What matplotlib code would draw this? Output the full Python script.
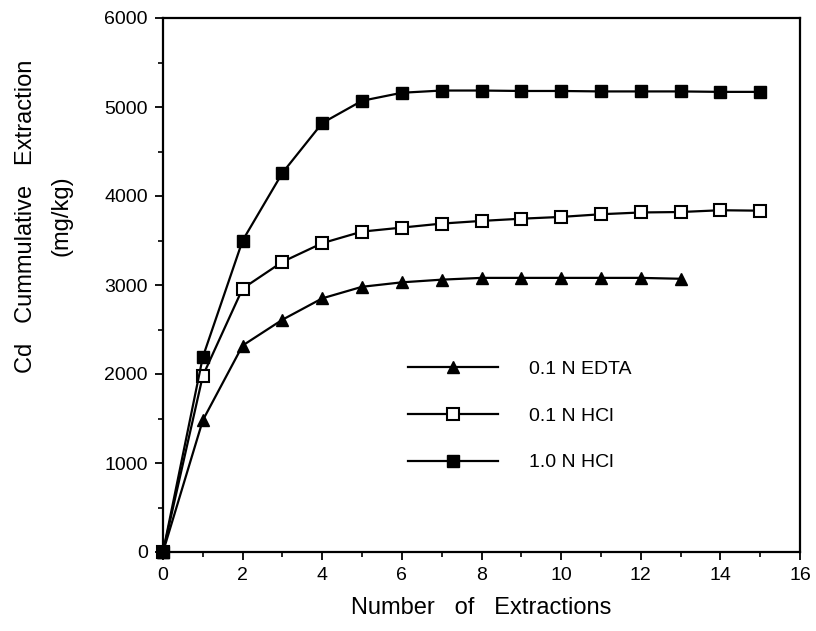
import matplotlib
matplotlib.use("Agg")
import matplotlib.pyplot as plt
from matplotlib.ticker import MultipleLocator

plt.rcParams['font.family'] = ['Liberation Sans', 'DejaVu Sans']

# data
x_edta = [0, 1, 2, 3, 4, 5, 6, 7, 8, 9, 10, 11, 12, 13]
edta = [0, 1480, 2320, 2610, 2850, 2980, 3030, 3060, 3080, 3080, 3080, 3080, 3080, 3070]

x_hcl = [0, 1, 2, 3, 4, 5, 6, 7, 8, 9, 10, 11, 12, 13, 14, 15]
hcl_01 = [0, 1980, 2960, 3260, 3470, 3600, 3645, 3690, 3720, 3745, 3765, 3795, 3815, 3820, 3840, 3835]
hcl_10 = [0, 2190, 3500, 4260, 4820, 5070, 5160, 5185, 5185, 5180, 5180, 5175, 5175, 5175, 5170, 5170]

labels = ['0.1 N EDTA', '0.1 N HCl', '1.0 N HCl']

fig = plt.figure(figsize=(8.16, 6.31), dpi=100)
ax = fig.add_axes([163/816, 79/631, 637/816, 534/631])

ax.plot(x_edta, edta, color='black', lw=1.6, marker='^', ms=8.5,
        mfc='black', mec='black', clip_on=False, label=labels[0], zorder=3)
ax.plot(x_hcl, hcl_01, color='black', lw=1.6, marker='s', ms=8,
        mfc='white', mec='black', mew=1.5, clip_on=False, label=labels[1], zorder=3)
ax.plot(x_hcl, hcl_10, color='black', lw=1.6, marker='s', ms=8,
        mfc='black', mec='black', clip_on=False, label=labels[2], zorder=3)

ax.set_xlim(0, 16)
ax.set_ylim(0, 6000)
ax.xaxis.set_major_locator(MultipleLocator(2))
ax.xaxis.set_minor_locator(MultipleLocator(1))
ax.yaxis.set_major_locator(MultipleLocator(1000))
ax.yaxis.set_minor_locator(MultipleLocator(500))
ax.tick_params(which='major', direction='out', length=6, width=1.3, labelsize=14, pad=5)
ax.tick_params(which='minor', direction='out', length=3.5, width=1.2)
for s in ax.spines.values():
    s.set_linewidth(1.6)

ax.set_xlabel('Number   of   Extractions', fontsize=17, labelpad=9)
fig.text(44/816, 1 - 216/631, 'Cd   Cummulative   Extraction\n(mg/kg)',
         rotation=90, ha='center', va='center', multialignment='center',
         fontsize=17, linespacing=1.8)

ax.legend(loc='center left', bbox_to_anchor=(0.385, 0.255), frameon=False,
          borderpad=0, borderaxespad=0, handlelength=4.6, handletextpad=1.6,
          labelspacing=1.5, fontsize=14, numpoints=1)

fig.savefig('out.png', dpi=100)
